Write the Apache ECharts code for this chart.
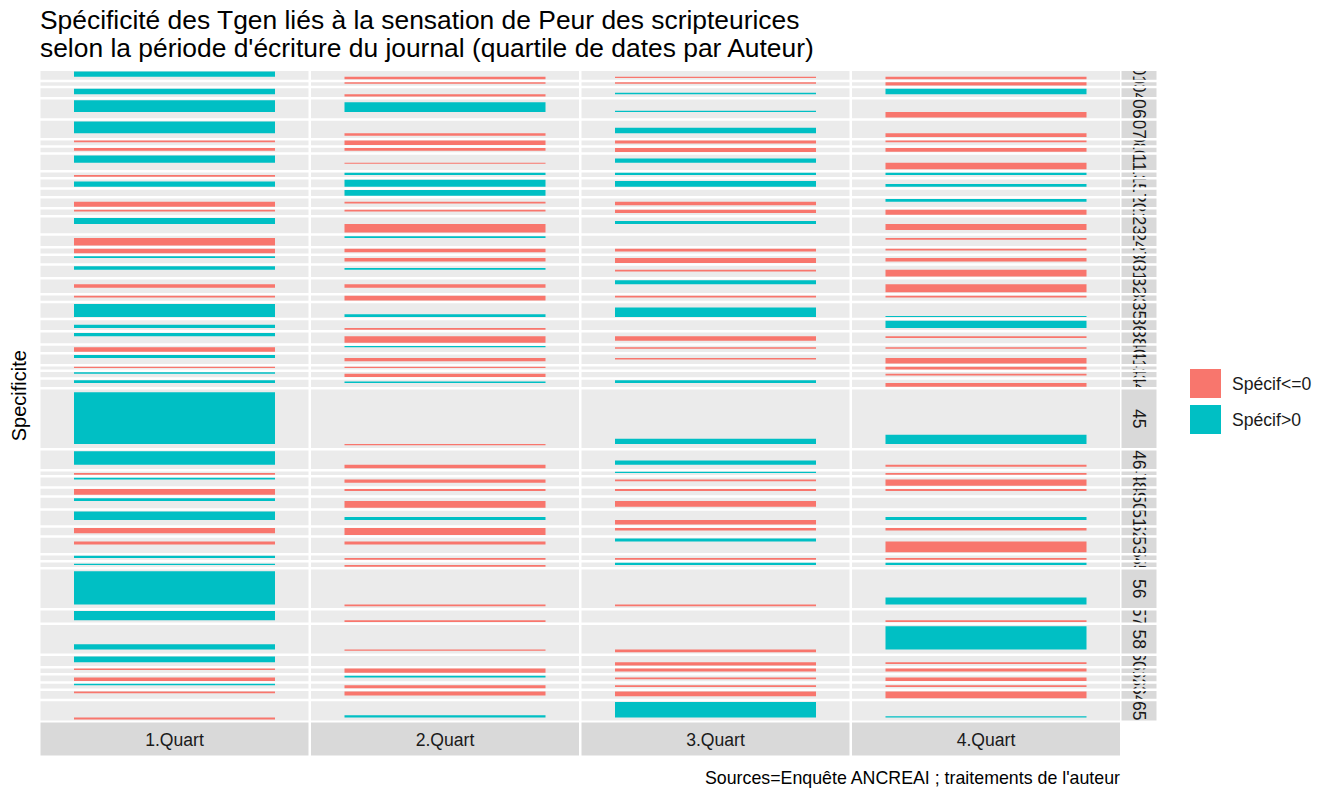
<!DOCTYPE html>
<html>
<head>
<meta charset="utf-8">
<script src="https://cdn.jsdelivr.net/npm/echarts@6/dist/echarts.min.js"></script>
<style>
  html, body { margin: 0; padding: 0; background: #ffffff; }
  #chart { width: 1330px; height: 790px; }
</style>
</head>
<body>
<div id="chart"></div>
<script>
// Facet columns: date quartiles per author
const quartiles = ['1.Quart', '2.Quart', '3.Quart', '4.Quart'];

// Facet rows: Tgen identifiers
const tgens = ['01','03','04','06','07','08','10','11','13','15','17','20','21','23','24','27',
  '30','31','32','33','35','36','38','40','41','42','43','44','45','46','47','48','49','50',
  '51','52','53','54','55','56','57','58','60','61','62','63','64','65'];

// Specificity of each Tgen, one array per quartile (same order as tgens)
const specQ1 = [5.3, 0, 5.3, 11.3, 11.3, -1.5, -2.7, 7, -1.7, 5, 0, -4.7, -1.7, 5.7, -7.3, -4.3,
  1.7, 3.3, -3.3, -1.7, 12.7, 3, 3, -4.3, 3, -1.3, 1.3, 2.7, 50, 13, -1.7, 1.7, -5.7, 2.7,
  8.3, -5, -2.7, 2.3, 1.3, 32, 9, 5, 5.7, -1.3, -3.3, 1.3, -1.7, -2];
const specQ2 = [-2.3, -1.5, -2.3, 9.3, -2.3, -4.3, -2.7, -1, 2.3, 6.7, 5.7, -1.7, -1.7, -8.3, 1.7, -3.3,
  -3.3, 1.7, -3.3, -4.7, 2.7, -1.7, -6.3, 1.3, -3, -1.3, -3.3, 1.3, -1.3, -3.3, 0, -3, -2, -6.7,
  3, -6.7, -2.7, -1.7, -1.7, -1.7, -1.7, -1.3, 0, -4, 1.7, -3, -4, 2.3];
const specQ3 = [-1.2, -1.3, 1.3, 1.3, 5.3, -2.7, -4, 4, 2.3, 5.7, 0, -3.3, -3, 3, 0, -2.7,
  -4.7, -1.7, 4, -1.7, 9.3, 0, -4.3, -1.3, -1.3, 0, 0, 2.7, 5, 4, 1.3, -1.7, -2, -5.7,
  -4.3, -2.3, 3, -1.7, 2.3, -1.7, 0, -2.7, -3, -2.7, -1.7, -1.7, -4.7, 15];
const specQ4 = [-2.3, -3.2, 5.3, -5.3, -3.7, -1.5, -3.7, -6.3, 2.3, 2.7, 0, 2.7, -4.7, -5.7, -1.7, -1.7,
  -3.3, -6.7, -7.7, -1.7, 1, 7, -1.7, -1.3, -5.3, -2.7, -1.7, -3.7, 9, -2, -1.7, -6, -2, 0,
  3, -2.3, -10.3, -1.7, 2.3, 6.7, -1.7, 22.3, -1.7, -2.7, -3.3, -1.7, -6.7, 1.3];

const legendNames = ['Spécif<=0', 'Spécif>0'];
const titleText = "Spécificité des Tgen liés à la sensation de Peur des scripteurices\nselon la période d'écriture du journal (quartile de dates par Auteur)";
const yTitle = 'Specificite';
const captionText = "Sources=Enquête ANCREAI ; traitements de l'auteur";

const series = [specQ1, specQ2, specQ3, specQ4];
const NEG = '#F8766D', POS = '#00BFC4';
const FONT = '"Liberation Sans", Arial, sans-serif';
const SMALL = 17.6;

// Layout of the facet grid
const plotLeft = 40.5, plotRight = 1120, plotTop = 71, plotBottom = 720.5, gap = 2.5;
const stripW = 35;
const colW = (plotRight - plotLeft - gap * 3) / 4;
const colLeft = quartiles.map((q, c) => plotLeft + c * (colW + gap));

// Free y scales with free space: each row is as tall as its data range (+5% each side)
const rows = tgens.map((t, i) => {
  const vals = series.map(s => s[i]);
  const lo = Math.min(0, ...vals), hi = Math.max(0, ...vals);
  const r = hi - lo;
  return { lo, hi, min: lo - 0.05 * r, max: hi + 0.05 * r, span: r * 1.1 };
});
const totalSpan = rows.reduce((a, r) => a + r.span, 0);
const k = (plotBottom - plotTop - gap * (rows.length - 1)) / totalSpan;
let yCursor = plotTop;
rows.forEach(r => { r.top = yCursor; r.h = r.span * k; yCursor += r.h + gap; });

const grid = [], xAxis = [], yAxis = [], chartSeries = [];
rows.forEach((r, i) => {
  quartiles.forEach((q, c) => {
    const gi = grid.length;
    grid.push({ left: colLeft[c], top: r.top, width: colW, height: r.h, show: true,
      backgroundColor: '#EBEBEB', borderWidth: 0 });
    xAxis.push({ type: 'category', gridIndex: gi, data: [q], show: false });
    yAxis.push({ type: 'value', gridIndex: gi, min: r.min, max: r.max, show: false });
    const v = series[c][i];
    chartSeries.push({ type: 'bar', xAxisIndex: gi, yAxisIndex: gi, barWidth: '75%', silent: true,
      data: [{ value: v, itemStyle: { color: v > 0 ? POS : NEG } }] });
  });
});

// legend entries
chartSeries.push({ type: 'scatter', name: legendNames[0], xAxisIndex: 0, yAxisIndex: 0, data: [], itemStyle: { color: NEG, opacity: 1 } });
chartSeries.push({ type: 'scatter', name: legendNames[1], xAxisIndex: 0, yAxisIndex: 0, data: [], itemStyle: { color: POS, opacity: 1 } });

const graphics = [];
// right-hand strips (one per Tgen row)
rows.forEach(r => {
  graphics.push({ type: 'rect', shape: { x: plotRight + 1.5, y: r.top, width: stripW, height: r.h },
    style: { fill: '#D9D9D9' }, silent: true });
});
// bottom strips (one per quartile)
quartiles.forEach((q, c) => {
  graphics.push({ type: 'rect', shape: { x: colLeft[c], y: plotBottom + 2, width: colW, height: 33 },
    style: { fill: '#D9D9D9' }, silent: true });
  graphics.push({ type: 'text', x: colLeft[c] + colW / 2, y: plotBottom + 2 + 17, silent: true,
    style: { text: q, fill: '#1A1A1A', font: SMALL + 'px ' + FONT, textAlign: 'center', textVerticalAlign: 'middle' } });
});
graphics.push({ type: 'text', x: 19, y: (plotTop + plotBottom) / 2, rotation: Math.PI / 2, silent: true,
  style: { text: yTitle, fill: '#000', font: '20px ' + FONT, textAlign: 'center', textVerticalAlign: 'middle' } });
graphics.push({ type: 'text', x: plotRight, y: 778, silent: true,
  style: { text: captionText, fill: '#000', font: '17.8px ' + FONT, textAlign: 'right', textVerticalAlign: 'middle' } });

const chart = echarts.init(document.getElementById('chart'), null, { renderer: 'svg' });
chart.setOption({
  animation: false,
  backgroundColor: '#ffffff',
  title: { text: titleText, left: 40, top: 6, padding: 0,
    textStyle: { fontSize: 26.4, lineHeight: 28, fontWeight: 'normal', color: '#000', fontFamily: FONT } },
  legend: { orient: 'vertical', left: 1190, top: 369, padding: 0, itemWidth: 31, itemHeight: 29, itemGap: 7,
    selectedMode: false, data: legendNames.map(n => ({ name: n, icon: 'rect' })),
    textStyle: { fontSize: SMALL, color: '#1A1A1A', fontFamily: FONT, padding: [0, 0, 0, 6] } },
  grid, xAxis, yAxis, series: chartSeries, graphic: graphics
});

// Row strip labels, clipped to their own strip
const zr = chart.getZr();
rows.forEach((r, i) => {
  const g = new echarts.graphic.Group();
  g.setClipPath(new echarts.graphic.Rect({ shape: { x: plotRight + 1.5, y: r.top, width: stripW, height: r.h } }));
  g.add(new echarts.graphic.Text({
    x: plotRight + 1.5 + stripW / 2, y: r.top + r.h / 2, rotation: -Math.PI / 2, z: 50,
    style: { text: tgens[i], fill: '#1A1A1A', fontSize: SMALL, fontFamily: FONT, align: 'center', verticalAlign: 'middle' }
  }));
  zr.add(g);
});
</script>
</body>
</html>
